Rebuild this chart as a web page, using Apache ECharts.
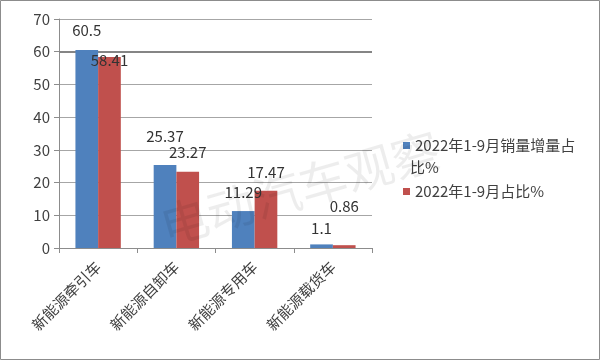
<!DOCTYPE html>
<html>
<head>
<meta charset="utf-8">
<script src="https://cdn.jsdelivr.net/npm/echarts@6/dist/echarts.min.js"></script>
<style>
html,body{margin:0;padding:0;background:#fff;}
#c{width:600px;height:360px;}
</style>
</head>
<body>
<div id="c"></div>
<script>
const categories = ['新能源牵引车', '新能源自卸车', '新能源专用车', '新能源载货车'];
const seriesNames = ['2022年1-9月销量增量占比%', '2022年1-9月占比%'];
const legendFirstLine = '2022年1-9月销量增量占';
const legendSecondLine = '比%';
const salesIncrementShare = [60.5, 25.37, 11.29, 1.1];
const share = [58.41, 23.27, 17.47, 0.86];
const yTicks = [0, 10, 20, 30, 40, 50, 60, 70];
const emphasizedGridValue = 60;

// label nudges (styling only, mimicking the reference label placement)
const nudgeA = [-7, -16, -6, -4];
const nudgeB = [16, -7, -6, -26];

const FONT = '"Noto Sans CJK SC", "Noto Sans", sans-serif';
const colors = ['#4F81BD', '#C0504D'];

function mk(values, nudges) {
  return values.map((v, i) => ({ value: v, label: { offset: [0, nudges[i]] } }));
}

const chart = echarts.init(document.getElementById('c'), null, { renderer: 'canvas' });
chart.setOption({
  animation: false,
  backgroundColor: '#fff',
  color: colors,
  textStyle: { fontFamily: FONT },
  grid: { left: 59, right: 228, top: 19, bottom: 112, containLabel: false },
  legend: [
    {
      orient: 'vertical',
      left: 398,
      top: 130,
      itemWidth: 7,
      itemHeight: 7,
      icon: 'rect',
      data: [seriesNames[0]],
      formatter: function () { return legendFirstLine; },
      textStyle: { fontSize: 15, color: '#404040', fontFamily: FONT, lineHeight: 21 }
    },
    {
      orient: 'vertical',
      left: 398,
      top: 176,
      itemWidth: 7,
      itemHeight: 7,
      icon: 'rect',
      data: [seriesNames[1]],
      textStyle: { fontSize: 15, color: '#404040', fontFamily: FONT, lineHeight: 21 }
    }
  ],
  xAxis: {
    type: 'category',
    data: categories,
    axisLine: { lineStyle: { color: '#8c8c8c', width: 1 } },
    axisTick: { show: true, length: 5, alignWithLabel: false, lineStyle: { color: '#8c8c8c' } },
    axisLabel: { rotate: 45, fontSize: 15, color: '#404040', margin: 16, interval: 0, fontFamily: FONT }
  },
  yAxis: {
    type: 'value',
    min: yTicks[0],
    max: yTicks[yTicks.length - 1],
    interval: 10,
    axisLine: { show: true, lineStyle: { color: '#8c8c8c' } },
    axisTick: { show: true, length: 5, lineStyle: { color: '#8c8c8c' } },
    axisLabel: { fontSize: 15, color: '#404040', margin: 9, fontFamily: FONT },
    splitLine: { lineStyle: { color: '#a6a6a6', width: 1 } }
  },
  series: [
    {
      name: seriesNames[0], type: 'bar', data: mk(salesIncrementShare, nudgeA),
      barGap: '0%', barCategoryGap: '42%',
      label: { show: true, position: 'top', distance: 5, fontSize: 15, color: '#333', fontFamily: FONT },
      markLine: {
        z: 1, silent: true, symbol: 'none', label: { show: false },
        lineStyle: { color: '#858585', width: 2, type: 'solid' },
        emphasis: { disabled: true },
        data: [{ yAxis: emphasizedGridValue }]
      }
    },
    {
      name: seriesNames[1], type: 'bar', data: mk(share, nudgeB),
      barGap: '0%', barCategoryGap: '42%',
      label: { show: true, position: 'top', distance: 5, fontSize: 15, color: '#333', fontFamily: FONT }
    }
  ],
  graphic: [
    {
      type: 'text', silent: true,
      x: 410, y: 167,
      style: { text: legendSecondLine, font: '15px ' + FONT, fill: '#404040', align: 'left', verticalAlign: 'middle' }
    },
    {
      type: 'rect', z: 100, silent: true,
      shape: { x: 0.5, y: 0.5, width: 599, height: 359 },
      style: { fill: 'none', stroke: '#8c8c8c', lineWidth: 1 }
    },
    {
      type: 'text', z: 100, silent: true,
      x: 300, y: 188, rotation: 16 * Math.PI / 180,
      style: { text: '电动汽车观察', font: '48px ' + FONT, fill: 'rgba(0,0,0,0.07)', align: 'center', verticalAlign: 'middle' }
    }
  ]
});
</script>
</body>
</html>
